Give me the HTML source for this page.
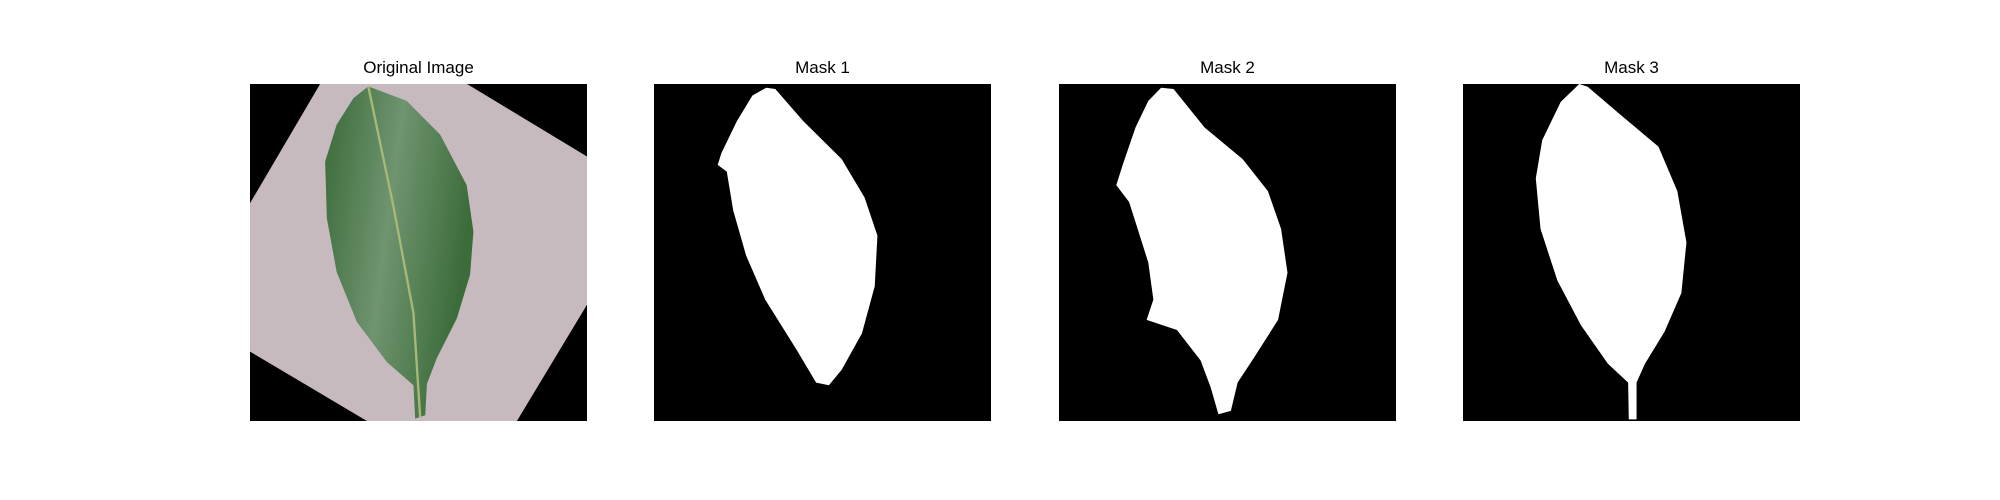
<!DOCTYPE html>
<html><head><meta charset="utf-8"><style>
html,body{margin:0;padding:0;background:#fff;}
#fig{position:relative;width:2000px;height:500px;overflow:hidden;font-family:"Liberation Sans","DejaVu Sans",sans-serif;}
.t{position:absolute;top:58px;width:337px;text-align:center;font-size:17px;color:#000;}
svg.p{position:absolute;top:84px;width:337px;height:337px;}
</style></head><body>
<div id="fig">
<div class="t" style="left:250px">Original Image</div>
<div class="t" style="left:654px">Mask 1</div>
<div class="t" style="left:1059px">Mask 2</div>
<div class="t" style="left:1463px">Mask 3</div>

<svg class="p" style="left:250px" viewBox="0 0 100 100" preserveAspectRatio="none">
<defs>
<linearGradient id="lg" x1="0" y1="0" x2="1" y2="0.3">
<stop offset="0" stop-color="#3a6a38"/><stop offset="0.5" stop-color="#6f9470"/><stop offset="1" stop-color="#3c6c3a"/>
</linearGradient>
</defs>
<rect width="100" height="100" fill="#000"/>
<polygon points="20.8,0 64.4,0 100,21.5 100,65.5 79.2,100 34.7,100 0,79.4 0,35.4" fill="#c6babf"/>
<polygon fill="url(#lg)" points="35.1,0.7 46.5,5 56.4,15 64.3,30 66.3,43.8 65.3,56.6 61.4,69.5 55.4,81.4 52.5,89 52,98.3 49,99.3 48.5,89.4 40.6,82.5 31.7,70.6 25.7,55.7 22.8,39.8 22.3,23 25.7,12.1 30.7,4.2"/>
<polyline points="35.1,0.7 42.5,36 48.5,68 50.5,99" stroke="#a7b878" stroke-width="0.7" fill="none"/>
</svg>

<svg class="p" style="left:654px" viewBox="0 0 100 100" preserveAspectRatio="none">
<rect width="100" height="100" fill="#000"/>
<polygon fill="#fff" points="33.3,1.1 36,1.5 44.3,11 55.7,22.3 62.5,33.7 66.3,45 65.5,60 61.7,74 55.7,84.8 51.9,89.4 48.1,88.6 42.4,79 33,64 27.3,50.8 23.5,37.5 21.6,26 18.9,24 20,20.5 24.6,11 29.2,3.4"/>
</svg>

<svg class="p" style="left:1059px" viewBox="0 0 100 100" preserveAspectRatio="none">
<rect width="100" height="100" fill="#000"/>
<polygon fill="#fff" points="30.3,1.1 34,1.5 43.2,12.9 54.5,22.3 62,31.8 65.9,43 67.8,56 65,70 58,81 53,88.6 51,97 47.3,98 45,90 42,82 35,73 26,70 28,64 26.5,53 22.7,41 20.8,35 17,30 18.9,24 22.7,12.9 26.5,5"/>
</svg>

<svg class="p" style="left:1463px" viewBox="0 0 100 100" preserveAspectRatio="none">
<rect width="100" height="100" fill="#000"/>
<polygon fill="#fff" points="34.5,0 37,0.8 46.6,9 58,18.6 63.6,31.8 66.3,47 64.8,62 59.8,73.5 54,83 51.5,88.6 51.5,99.5 49.2,99.5 49,88.6 43,83 35,71.6 28,58.3 23,43 21.6,28 23.5,16.7 29,5.3"/>
</svg>
</div>
</body></html>
